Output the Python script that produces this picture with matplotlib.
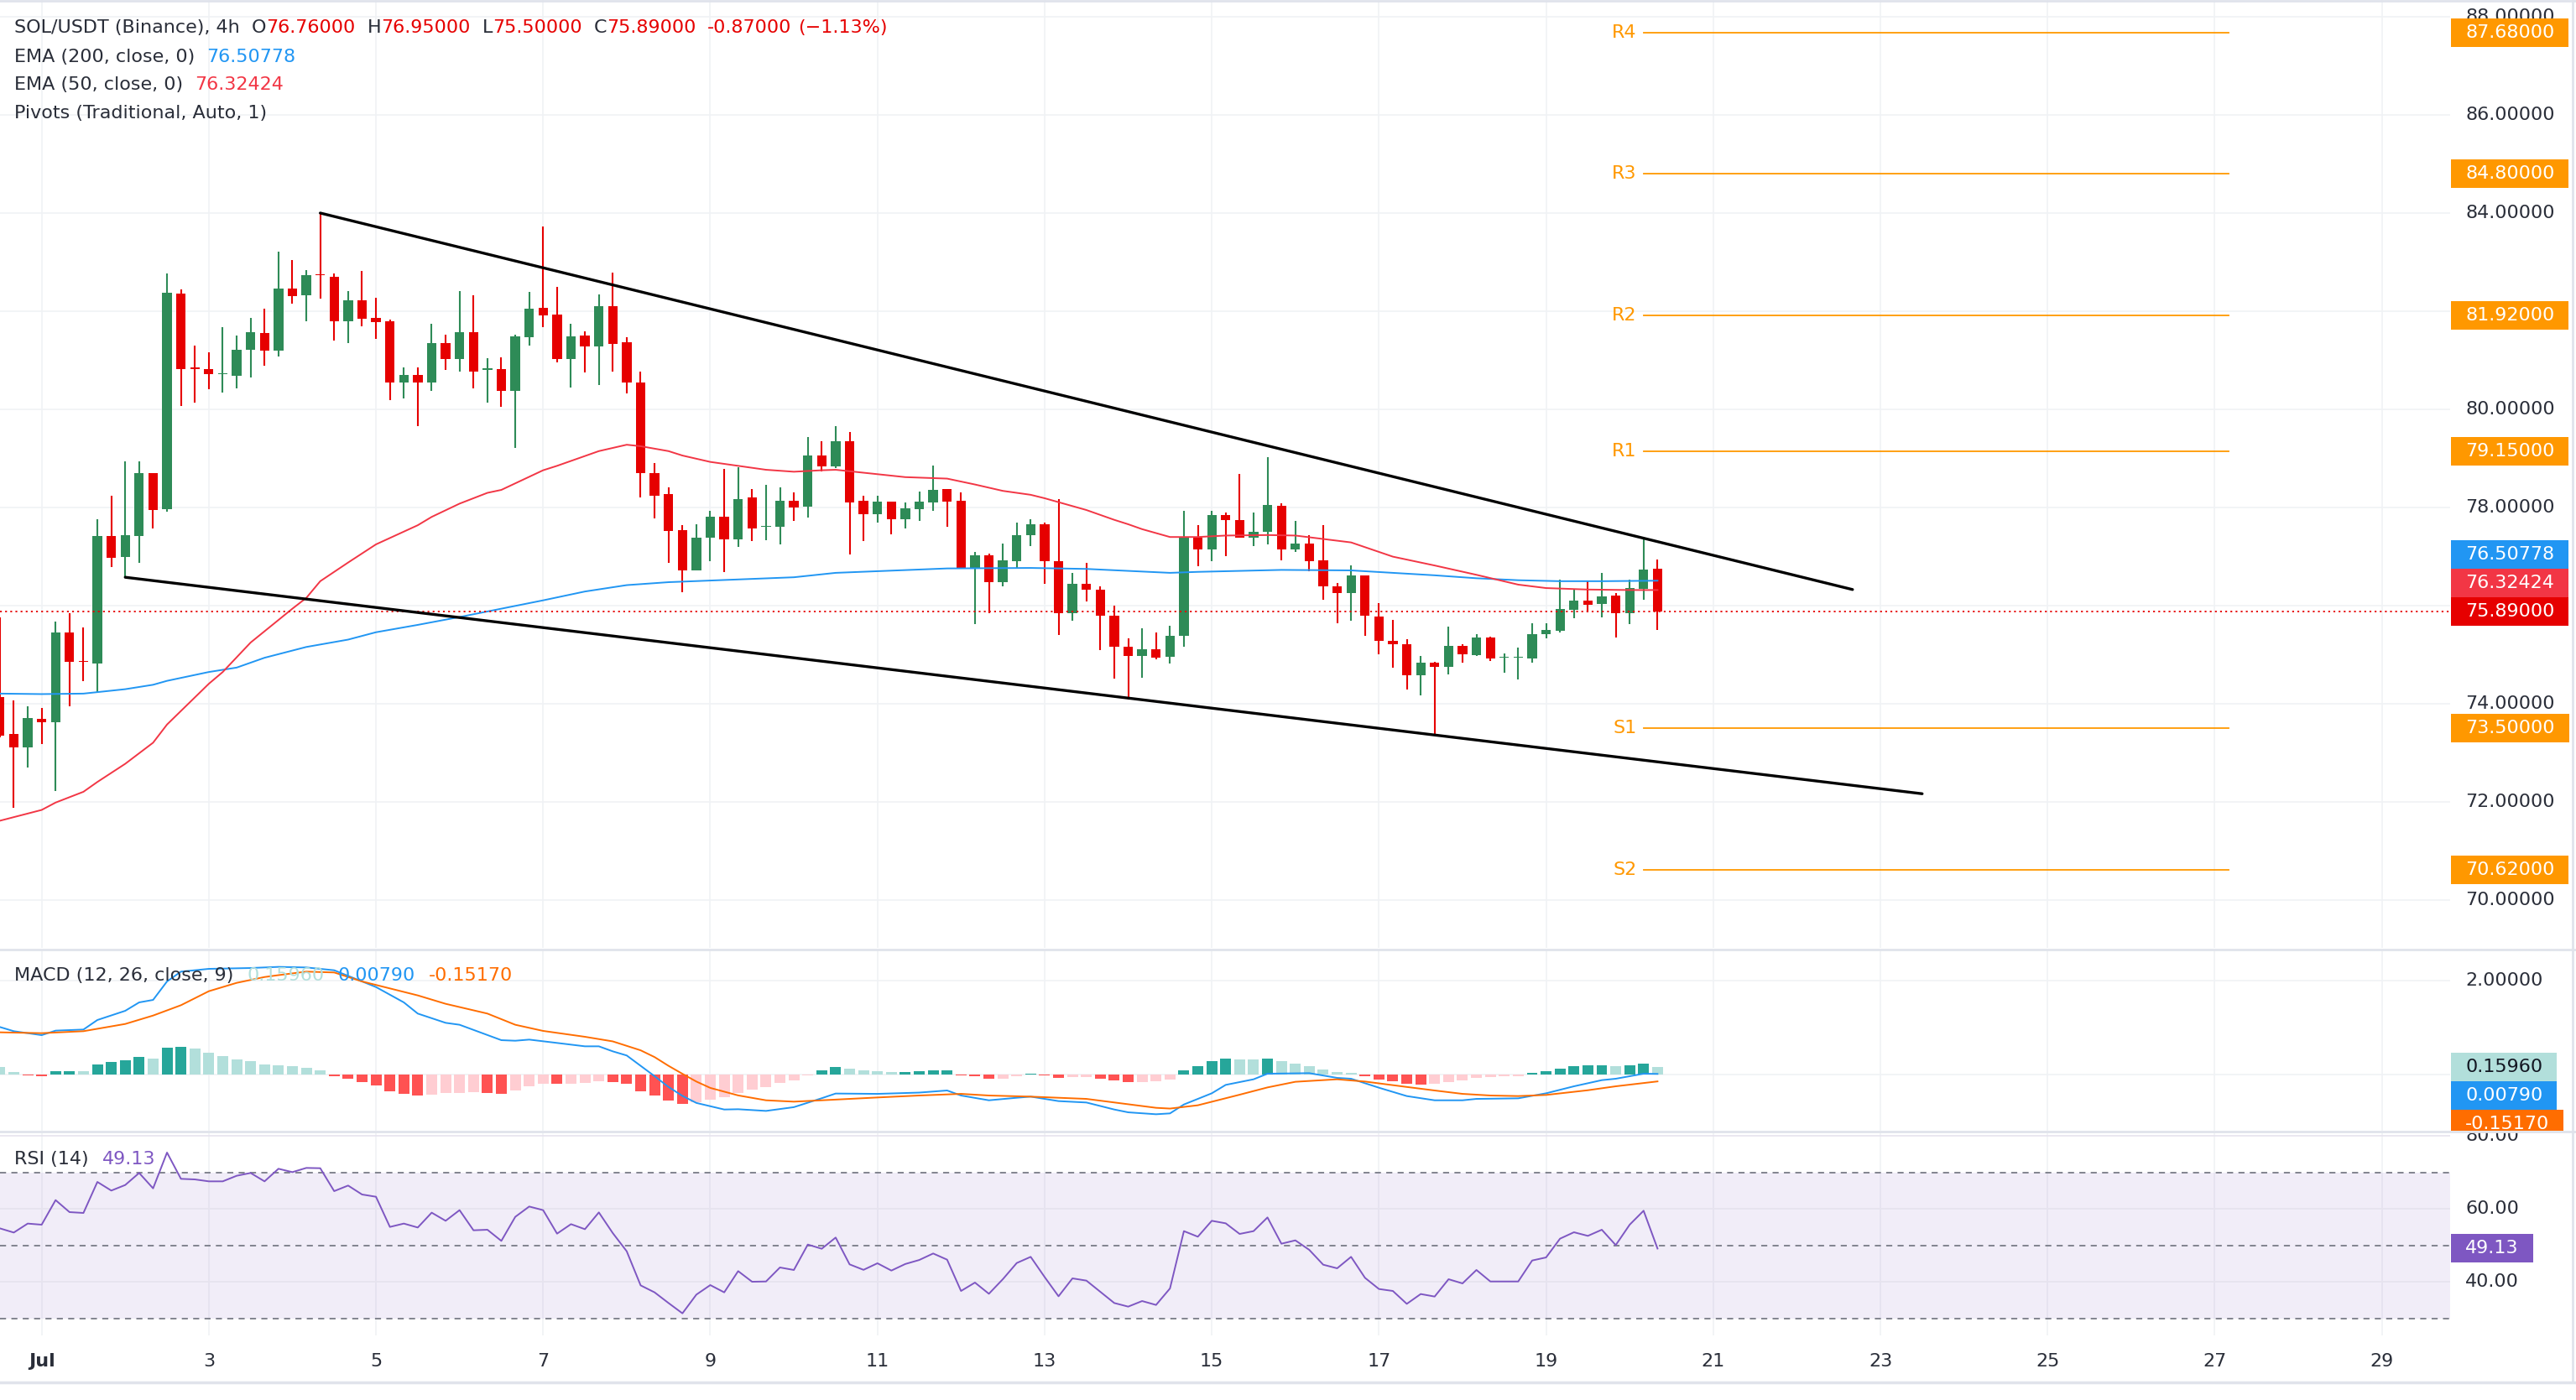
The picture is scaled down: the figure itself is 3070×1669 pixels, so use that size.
import numpy as np
import matplotlib
matplotlib.use("Agg")
import matplotlib.pyplot as plt
from matplotlib.patches import Rectangle
from matplotlib.lines import Line2D

plt.rcParams['font.family'] = ['DejaVu Sans']

# ----------------------------------------------------------------- data
# 4h bars, bar 0 = Jul 1 00:00, first visible bar = -3
first_bar = -3
opens = [74.14, 73.39, 73.11, 73.70, 73.63, 75.45, 74.88, 74.83, 77.42, 76.99,
         77.42, 78.70, 77.96, 82.36, 80.86, 80.82, 80.71, 80.68, 81.21, 81.56,
         81.19, 82.46, 82.33, 82.75, 82.70, 81.80, 82.22, 81.86, 81.79, 80.54,
         80.70, 80.54, 81.35, 81.02, 81.57, 80.81, 80.82, 80.37, 81.47, 82.07,
         81.93, 81.03, 81.50, 81.29, 82.11, 81.36, 80.55, 78.71, 78.28, 77.54,
         76.72, 77.39, 77.81, 77.35, 78.21, 77.60, 77.60, 78.14, 78.02, 79.06,
         78.84, 79.35, 78.14, 77.87, 78.12, 77.77, 77.96, 78.11, 78.38, 78.14,
         76.76, 77.02, 76.48, 76.91, 77.44, 77.66, 76.90, 75.84, 76.44, 76.32,
         75.79, 75.17, 74.98, 75.12, 74.96, 75.38, 77.38, 77.15, 77.85, 77.75,
         77.39, 77.51, 78.03, 77.15, 77.26, 76.93, 76.39, 76.25, 76.62, 75.78,
         75.29, 75.21, 74.59, 74.84, 74.75, 75.18, 75.00, 75.35, 74.94, 74.94,
         74.93, 75.42, 75.49, 75.92, 76.11, 76.03, 76.20, 75.85, 76.35, 76.76]
highs = [75.77, 74.07, 73.95, 73.92, 75.68, 75.85, 75.55, 77.77, 78.24, 78.94,
         78.94, 78.70, 82.77, 82.45, 81.30, 81.17, 81.68, 81.50, 81.86, 82.05,
         83.21, 83.04, 82.84, 84.00, 82.77, 82.41, 82.82, 82.27, 81.83, 80.86,
         80.86, 81.74, 81.52, 82.41, 82.32, 81.04, 81.06, 81.52, 82.39, 83.73,
         82.50, 81.74, 81.59, 82.34, 82.79, 81.47, 80.77, 78.91, 78.42, 77.64,
         77.66, 77.93, 78.78, 78.82, 78.38, 78.47, 78.41, 78.31, 79.44, 79.35,
         79.66, 79.54, 78.24, 78.24, 78.12, 78.11, 78.32, 78.86, 78.38, 78.31,
         77.09, 77.06, 77.26, 77.69, 77.77, 77.69, 78.18, 76.67, 76.87, 76.39,
         76.01, 75.33, 75.54, 75.45, 75.60, 77.94, 77.64, 77.94, 77.90, 78.68,
         77.90, 79.03, 78.09, 77.73, 77.44, 77.64, 76.47, 76.83, 76.62, 76.05,
         75.72, 75.32, 74.97, 74.86, 75.57, 75.21, 75.42, 75.37, 75.02, 75.15,
         75.64, 75.64, 76.54, 76.33, 76.50, 76.67, 76.26, 76.54, 77.39, 76.95]
lows = [73.32, 71.88, 72.71, 73.18, 72.23, 73.95, 74.46, 74.24, 76.79, 76.58,
        76.88, 77.58, 77.92, 80.07, 80.14, 80.41, 80.34, 80.43, 80.65, 80.89,
        81.07, 82.15, 81.80, 82.26, 81.40, 81.35, 81.70, 81.43, 80.19, 80.22,
        79.66, 80.37, 80.81, 80.77, 80.43, 80.14, 80.06, 79.21, 81.30, 81.68,
        80.95, 80.44, 80.75, 80.49, 80.77, 80.33, 78.21, 77.78, 76.88, 76.28,
        76.72, 76.91, 76.68, 77.20, 77.31, 77.33, 77.25, 77.73, 77.79, 78.74,
        78.80, 77.05, 77.32, 77.70, 77.46, 77.58, 77.73, 77.94, 77.61, 76.76,
        75.63, 75.84, 76.39, 76.76, 77.22, 76.45, 75.41, 75.69, 76.09, 75.10,
        74.51, 74.09, 74.54, 74.90, 74.83, 75.17, 76.80, 76.91, 77.01, 77.39,
        77.22, 77.25, 76.93, 77.09, 76.70, 76.13, 75.64, 75.69, 75.38, 75.01,
        74.74, 74.29, 74.18, 73.37, 74.60, 74.84, 74.98, 74.87, 74.64, 74.50,
        74.84, 75.34, 75.45, 75.74, 75.86, 75.76, 75.36, 75.62, 76.12, 75.50]
closes = [73.35, 73.11, 73.72, 73.63, 75.45, 74.85, 74.85, 77.42, 76.97, 77.44,
          78.70, 77.95, 82.38, 80.82, 80.82, 80.71, 80.74, 81.22, 81.57, 81.19,
          82.46, 82.31, 82.73, 82.73, 81.80, 82.22, 81.85, 81.78, 80.54, 80.70,
          80.54, 81.35, 81.02, 81.57, 80.77, 80.83, 80.37, 81.49, 82.05, 81.91,
          81.03, 81.49, 81.29, 82.11, 81.34, 80.55, 78.71, 78.24, 77.53, 76.72,
          77.39, 77.81, 77.35, 78.18, 77.57, 77.62, 78.14, 78.01, 79.06, 78.84,
          79.35, 78.11, 77.86, 78.12, 77.77, 77.99, 78.12, 78.36, 78.12, 76.76,
          77.02, 76.48, 76.93, 77.44, 77.66, 76.90, 75.84, 76.44, 76.32, 75.79,
          75.17, 74.98, 75.12, 74.94, 75.38, 77.38, 77.14, 77.85, 77.75, 77.39,
          77.51, 78.06, 77.15, 77.26, 76.91, 76.39, 76.25, 76.62, 75.79, 75.29,
          75.21, 74.58, 74.84, 74.75, 75.18, 75.01, 75.35, 74.93, 74.96, 74.96,
          75.42, 75.50, 75.93, 76.11, 76.02, 76.19, 75.85, 76.36, 76.74, 75.89]

ema200_bars = [-3, 0, 3, 6, 8, 9, 12, 14, 16, 19, 22, 24, 27, 30, 33, 36, 39, 42, 45, 54,
               57, 65, 71, 75, 81, 83, 89, 94, 97, 100, 103, 106, 109, 112, 116]
ema200_vals = [74.21, 74.20, 74.21, 74.30, 74.39, 74.47, 74.65, 74.74, 74.94, 75.16,
               75.31, 75.46, 75.61, 75.77, 75.94, 76.11, 76.29, 76.42, 76.48, 76.58,
               76.67, 76.76, 76.77, 76.75, 76.67, 76.69, 76.73, 76.72, 76.67, 76.62,
               76.56, 76.52, 76.50, 76.50, 76.51]
ema50_bars = [-3, 0, 1, 3, 4, 6, 8, 9, 12, 13, 15, 18, 19, 20, 22, 24, 27, 28, 30, 32,
              33, 36, 37, 40, 42, 43, 45, 46, 48, 52, 54, 56, 57, 60, 62, 65, 67, 69, 71, 72,
              73, 75, 77, 78, 79, 81, 83, 85, 88, 90, 94, 97, 100, 103, 106, 108, 111, 114, 116]
ema50_vals = [71.62, 71.84, 71.99, 72.21, 72.41, 72.78, 73.21, 73.58, 74.41, 74.65,
              75.25, 75.94, 76.16, 76.50, 76.88, 77.25, 77.64, 77.81, 78.08, 78.30,
              78.36, 78.76, 78.85, 79.15, 79.28, 79.25, 79.15, 79.06, 78.93, 78.77,
              78.73, 78.76, 78.77, 78.68, 78.62, 78.59, 78.47, 78.34, 78.26, 78.19,
              78.11, 77.95, 77.75, 77.66, 77.56, 77.40, 77.40, 77.43, 77.44, 77.43,
              77.29, 77.00, 76.82, 76.63, 76.43, 76.36, 76.33, 76.32, 76.32]

macd_bars = [-3, -2, 0, 1, 3, 4, 6, 7, 8, 9, 10, 12, 15, 17, 19, 21, 22, 24, 26, 27,
             29, 30, 33, 34, 35, 37, 39, 40, 41, 42, 43, 44, 45, 46, 47, 49, 50, 52, 54, 56,
             57, 60, 63, 65, 66, 68, 70, 71, 73, 75, 77, 78, 80, 81, 82, 84, 85, 87, 88, 91,
             93, 94, 96, 98, 100, 102, 103, 106, 108, 110, 112, 113, 115, 116]
macd_vals = [1.006, 0.917, 0.833, 0.929, 0.952, 1.155, 1.351, 1.530, 1.583, 1.976,
             2.185, 2.244, 2.262, 2.286, 2.274, 2.214, 2.095, 1.857, 1.530, 1.292,
             1.095, 1.054, 0.726, 0.714, 0.738, 0.667, 0.595, 0.595, 0.488, 0.40,
             0.18, -0.04, -0.27, -0.46, -0.61, -0.75, -0.744, -0.78, -0.70, -0.51,
             -0.41, -0.417, -0.39, -0.345, -0.452, -0.554, -0.50, -0.476, -0.571, -0.601,
             -0.75, -0.81, -0.851, -0.833, -0.643, -0.405, -0.226, -0.107, 0.012, 0.024,
             -0.077, -0.095, -0.286, -0.464, -0.554, -0.554, -0.524, -0.512, -0.405, -0.256,
             -0.125, -0.095, 0.012, 0.0079]
signal_bars = [-3, 0, 3, 6, 8, 10, 12, 14, 16, 17, 19, 21, 23, 27, 29, 32, 34, 36, 39, 41,
               43, 44, 45, 46, 47, 48, 50, 52, 54, 56, 60, 63, 66, 68, 71, 75, 77, 80, 81, 83,
               86, 88, 90, 93, 95, 98, 100, 102, 104, 106, 108, 111, 113, 116]
signal_vals = [0.893, 0.875, 0.917, 1.071, 1.25, 1.47, 1.768, 1.946, 2.07, 2.11,
               2.185, 2.167, 1.976, 1.679, 1.50, 1.292, 1.054, 0.923, 0.798, 0.70,
               0.51, 0.366, 0.18, 0.01, -0.155, -0.29, -0.45, -0.554, -0.583, -0.554,
               -0.494, -0.452, -0.417, -0.452, -0.476, -0.524, -0.60, -0.714, -0.73, -0.66,
               -0.435, -0.28, -0.16, -0.107, -0.155, -0.27, -0.345, -0.417, -0.452, -0.464,
               -0.44, -0.34, -0.256, -0.152]
hist_vals = [0.16, 0.05, -0.03, -0.04, 0.06, 0.065, 0.06, 0.21, 0.26, 0.30,
             0.37, 0.33, 0.57, 0.58, 0.55, 0.46, 0.39, 0.32, 0.28, 0.20,
             0.19, 0.17, 0.13, 0.08, -0.05, -0.10, -0.16, -0.24, -0.36, -0.42,
             -0.46, -0.43, -0.40, -0.39, -0.38, -0.39, -0.42, -0.35, -0.25, -0.20,
             -0.21, -0.20, -0.19, -0.15, -0.16, -0.20, -0.36, -0.46, -0.56, -0.63,
             -0.60, -0.54, -0.48, -0.39, -0.33, -0.27, -0.18, -0.13, -0.02, 0.09,
             0.15, 0.12, 0.085, 0.065, 0.045, 0.05, 0.065, 0.08, 0.085, -0.02,
             -0.04, -0.10, -0.095, -0.04, 0.02, -0.02, -0.07, -0.068, -0.065, -0.10,
             -0.13, -0.17, -0.165, -0.14, -0.11, 0.08, 0.17, 0.28, 0.33, 0.32,
             0.31, 0.33, 0.28, 0.23, 0.17, 0.10, 0.05, 0.03, -0.05, -0.11,
             -0.15, -0.20, -0.22, -0.20, -0.17, -0.13, -0.07, -0.065, -0.05, -0.04,
             0.03, 0.065, 0.12, 0.17, 0.19, 0.195, 0.17, 0.19, 0.23, 0.16]
rsi_vals = [54.67, 53.52, 55.98, 55.67, 62.41, 59.12, 58.89, 67.39, 65.02, 66.55,
            69.85, 65.63, 75.44, 68.24, 68.08, 67.55, 67.55, 69.08, 69.85, 67.55,
            71.00, 70.08, 71.23, 71.15, 64.87, 66.40, 63.95, 63.33, 55.06, 55.98,
            54.90, 58.97, 56.74, 59.66, 54.14, 54.29, 51.23, 57.82, 60.65, 59.66,
            53.22, 55.82, 54.44, 59.04, 53.37, 48.39, 39.04, 37.13, 34.21, 31.38,
            36.51, 39.12, 37.13, 42.95, 40.04, 40.11, 43.95, 43.26, 50.23, 49.08,
            52.15, 44.80, 43.30, 45.10, 43.10, 44.90, 46.00, 47.78, 46.09, 37.51,
            39.81, 36.74, 40.73, 45.17, 46.86, 41.34, 36.05, 40.96, 40.35, 37.28,
            34.21, 33.22, 34.75, 33.68, 38.20, 53.91, 52.38, 56.74, 56.05, 53.14,
            53.91, 57.66, 50.46, 51.38, 48.77, 44.71, 43.72, 46.86, 41.11, 38.05,
            37.51, 33.98, 36.67, 35.98, 40.73, 39.58, 43.26, 40.11, 40.11, 40.11,
            45.86, 46.70, 51.84, 53.60, 52.61, 54.29, 50.08, 55.67, 59.50, 49.13]

upper_trend_bars = [20, 130]
upper_trend_prices = [84.00, 76.33]
lower_trend_bars = [6, 135]
lower_trend_prices = [76.58, 72.17]

pivot_names = ['R4', 'R3', 'R2', 'R1', 'S1', 'S2']
pivot_levels = [87.68, 84.80, 81.92, 79.15, 73.50, 70.62]
pivot_bars = [115, 157]

day_numbers = [1, 3, 5, 7, 9, 11, 13, 15, 17, 19, 21, 23, 25, 27, 29]
day_labels = ['Jul', '3', '5', '7', '9', '11', '13', '15', '17', '19', '21', '23', '25', '27', '29']
bars_per_day = 6

price_grid = [70, 72, 74, 76, 78, 80, 82, 84, 86, 88]
macd_grid = [0.0, 2.0]
rsi_grid = [40, 60, 80]
rsi_bands = [30, 50, 70]

last_open, last_high, last_low, last_close = 76.76, 76.95, 75.50, 75.89
change_abs, change_pct = -0.87, -1.13
ema200_last, ema50_last = 76.50778, 76.32424
hist_last, macd_last, signal_last = 0.15960, 0.00790, -0.15170
rsi_last = 49.13

main_ylim = (69.03, 88.34)
macd_ylim = (-1.202, 2.637)
rsi_ylim = (25.33, 80.96)
x_lim = (-2.99, 172.9)

# ----------------------------------------------------------------- style
UP = '#2e8b57'
DOWN = '#e60000'
EMA200_C = '#2196f3'
EMA50_C = '#f23645'
PIVOT_C = '#ff9800'
GRID_C = '#f0f2f5'
TEXT_C = '#2a2e39'
SEP_C = '#e0e3eb'
MACD_C = '#2196f3'
SIG_C = '#ff6d00'
H_UP_STRONG, H_UP_WEAK = '#26a69a', '#b2dfdb'
H_DN_STRONG, H_DN_WEAK = '#ff5252', '#ffcdd2'
RSI_C = '#7e57c2'
FS = 16

W, H, DPI = 3070, 1669, 100
fig = plt.figure(figsize=(W / DPI, H / DPI), dpi=DPI, facecolor='white')
renderer = fig.canvas.get_renderer()


def px_axes(left, top, right, bottom):
    a = fig.add_axes([left / W, 1 - bottom / H, (right - left) / W, (bottom - top) / H])
    a.set_axis_off()
    return a


PLOT_R = 2920
panes = {'main': (0, 1130), 'macd': (1133, 1348), 'rsi': (1350, 1592)}
ax = px_axes(0, 0, PLOT_R, 1130)
axm = px_axes(0, 1133, PLOT_R, 1348)
axr = px_axes(0, 1350, PLOT_R, 1592)
axt = px_axes(0, 1592, PLOT_R, 1648)
sm = px_axes(PLOT_R, 0, W, 1130)
smm = px_axes(PLOT_R, 1133, W, 1348)
smr = px_axes(PLOT_R, 1350, W, 1592)

for a, yl in ((ax, main_ylim), (axm, macd_ylim), (axr, rsi_ylim)):
    a.set_xlim(*x_lim)
    a.set_ylim(*yl)
axt.set_xlim(*x_lim)
axt.set_ylim(0, 1)
for s, yl in ((sm, main_ylim), (smm, macd_ylim), (smr, rsi_ylim)):
    s.set_xlim(0, W - PLOT_R)
    s.set_ylim(*yl)

day_bars = [(d - 1) * bars_per_day for d in day_numbers]

# grids
for a in (ax, axm, axr):
    for xb in day_bars:
        a.axvline(xb, color=GRID_C, lw=1.2, zorder=0)
for v in price_grid:
    ax.axhline(v, color=GRID_C, lw=1.2, zorder=0)
for v in macd_grid:
    axm.axhline(v, color=GRID_C, lw=1.2, zorder=0)
for v in rsi_grid:
    axr.axhline(v, color='#e6e3ee', lw=1.2, zorder=1)

# ----------------------------------------------------------------- candles
o, h, l, c = map(np.asarray, (opens, highs, lows, closes))
xb = np.arange(first_bar, first_bar + len(o))
cols = np.where(c >= o, UP, DOWN)
ax.vlines(xb, l, h, colors=cols, lw=1.5, zorder=3)
body = np.maximum(np.abs(c - o), 0.025)
ax.bar(xb, body, bottom=np.minimum(o, c), width=0.68, color=cols, linewidth=0, zorder=4)

ax.plot(ema200_bars, ema200_vals, color=EMA200_C, lw=1.4, zorder=5)
ax.plot(ema50_bars, ema50_vals, color=EMA50_C, lw=1.4, zorder=5)
ax.axhline(last_close, color=DOWN, lw=1.3, ls=(0, (1.2, 2.2)), zorder=5)

ax.plot(upper_trend_bars, upper_trend_prices, color='black', lw=2.4, zorder=6,
        solid_capstyle='round')
ax.plot(lower_trend_bars, lower_trend_prices, color='black', lw=2.4, zorder=6,
        solid_capstyle='round')

for name, lvl in zip(pivot_names, pivot_levels):
    ax.plot(pivot_bars, [lvl, lvl], color=PIVOT_C, lw=1.3, zorder=5)
    ax.text(pivot_bars[0] - 0.5, lvl, name, color=PIVOT_C, fontsize=FS,
            ha='right', va='center', zorder=6)

# ----------------------------------------------------------------- MACD
hv = np.asarray(hist_vals)
prev = np.r_[hv[0] + 1.0, hv[:-1]]
hcols = np.where(hv >= 0, np.where(prev < hv, H_UP_STRONG, H_UP_WEAK),
                 np.where(prev < hv, H_DN_WEAK, H_DN_STRONG))
axm.bar(xb, hv, width=0.78, color=hcols, linewidth=0, zorder=2)
axm.plot(macd_bars, macd_vals, color=MACD_C, lw=1.4, zorder=3)
axm.plot(signal_bars, signal_vals, color=SIG_C, lw=1.4, zorder=3)

# ----------------------------------------------------------------- RSI
axr.axhspan(rsi_bands[0], rsi_bands[-1], color=RSI_C, alpha=0.1, lw=0, zorder=0)
for v in rsi_bands:
    axr.axhline(v, color='#787b86', lw=1.3, ls=(0, (4, 3.5)), zorder=2)
axr.plot(xb, rsi_vals, color=RSI_C, lw=1.4, zorder=3)

# ----------------------------------------------------------------- time axis
for xpos, lab in zip(day_bars, day_labels):
    axt.text(xpos, 0.45, lab, ha='center', va='center', fontsize=FS, color=TEXT_C,
             fontweight='bold' if not lab.isdigit() else 'normal')


# ----------------------------------------------------------------- price scales
def badge_layout(ref_ax, values, anchor, h_px=34):
    ppu = ref_ax.transData.transform((0, 1))[1] - ref_ax.transData.transform((0, 0))[1]
    step = h_px / ppu
    order = list(np.argsort(values)[::-1])  # top first
    pos = {i: values[i] for i in order}
    ai = order.index(anchor)
    for j in range(ai - 1, -1, -1):
        i, below = order[j], order[j + 1]
        pos[i] = max(values[i], pos[below] + step)
    for j in range(ai + 1, len(order)):
        i, above = order[j], order[j - 1]
        pos[i] = min(values[i], pos[above] - step)
    return pos, ppu, h_px / ppu


def draw_scale(strip, ref_ax, ticks, tick_fmt, items, anchor):
    vals = [it[0] for it in items]
    pos, ppu, bh = badge_layout(ref_ax, vals, anchor)
    for t in ticks:
        if all(abs(t - pos[i]) * ppu > 17 for i in pos):
            strip.text(18, t, tick_fmt.format(t), fontsize=FS, color=TEXT_C,
                       ha='left', va='center', clip_on=True, zorder=2)
    for i, (v, txt, fc, tc) in enumerate(items):
        y = pos[i]
        tt = strip.text(18, y, txt, fontsize=FS, color=tc, ha='left', va='center',
                        clip_on=True, zorder=4)
        tw = tt.get_window_extent(renderer=renderer).width
        strip.add_patch(Rectangle((1, y - bh / 2), tw + 34, bh, facecolor=fc,
                                  edgecolor='none', zorder=3))


main_items = [(pivot_levels[0], f'{pivot_levels[0]:.5f}', PIVOT_C, 'white'),
              (pivot_levels[1], f'{pivot_levels[1]:.5f}', PIVOT_C, 'white'),
              (pivot_levels[2], f'{pivot_levels[2]:.5f}', PIVOT_C, 'white'),
              (pivot_levels[3], f'{pivot_levels[3]:.5f}', PIVOT_C, 'white'),
              (ema200_last, f'{ema200_last:.5f}', EMA200_C, 'white'),
              (ema50_last, f'{ema50_last:.5f}', EMA50_C, 'white'),
              (last_close, f'{last_close:.5f}', DOWN, 'white'),
              (pivot_levels[4], f'{pivot_levels[4]:.5f}', PIVOT_C, 'white'),
              (pivot_levels[5], f'{pivot_levels[5]:.5f}', PIVOT_C, 'white')]
draw_scale(sm, ax, price_grid, '{:.5f}', main_items, anchor=6)

macd_items = [(hist_last, f'{hist_last:.5f}', H_UP_WEAK, '#131722'),
              (macd_last, f'{macd_last:.5f}', MACD_C, 'white'),
              (signal_last, f'{signal_last:.5f}', SIG_C, 'white')]
draw_scale(smm, axm, macd_grid, '{:.5f}', macd_items, anchor=0)

rsi_items = [(rsi_last, f'{rsi_last:.2f}', RSI_C, 'white')]
draw_scale(smr, axr, rsi_grid, '{:.2f}', rsi_items, anchor=0)


# ----------------------------------------------------------------- legends
def rich_line(x_px, y_px, parts):
    x = x_px
    for txt, col, gap in parts:
        t = fig.text(x / W, 1 - y_px / H, txt, color=col, fontsize=FS, ha='left',
                     va='center', zorder=10)
        x += t.get_window_extent(renderer=renderer).width + gap


rich_line(17, 33, [('SOL/USDT (Binance), 4h', TEXT_C, 14),
                   ('O', TEXT_C, 0), (f'{last_open:.5f}', DOWN, 14),
                   ('H', TEXT_C, 0), (f'{last_high:.5f}', DOWN, 14),
                   ('L', TEXT_C, 0), (f'{last_low:.5f}', DOWN, 14),
                   ('C', TEXT_C, 0), (f'{last_close:.5f}', DOWN, 14),
                   (f'{change_abs:.5f}', DOWN, 7),
                   (f'(\u2212{abs(change_pct):.2f}%)', DOWN, 0)])
rich_line(17, 68, [('EMA (200, close, 0)', TEXT_C, 14), (f'{ema200_last:.5f}', EMA200_C, 0)])
rich_line(17, 101, [('EMA (50, close, 0)', TEXT_C, 14), (f'{ema50_last:.5f}', EMA50_C, 0)])
rich_line(17, 135, [('Pivots (Traditional, Auto, 1)', TEXT_C, 0)])
rich_line(17, 1163, [('MACD (12, 26, close, 9)', TEXT_C, 16),
                     (f'{hist_last:.5f}', H_UP_WEAK, 16),
                     (f'{macd_last:.5f}', MACD_C, 16),
                     (f'{signal_last:.5f}', SIG_C, 0)])
rich_line(17, 1382, [('RSI (14)', TEXT_C, 16), (f'{rsi_last:.2f}', RSI_C, 0)])

# ----------------------------------------------------------------- separators
for ypx, lw in ((1131.5, 2.0), (1349, 2.0), (1648, 2.5), (1, 2.0)):
    fig.add_artist(Line2D([0, 1], [1 - ypx / H] * 2, transform=fig.transFigure,
                          color=SEP_C, lw=lw))
fig.add_artist(Line2D([1 - 4 / W] * 2, [1 - 1648 / H, 1], transform=fig.transFigure,
                      color=SEP_C, lw=2.0))

fig.savefig('out.png', dpi=DPI, facecolor='white')
